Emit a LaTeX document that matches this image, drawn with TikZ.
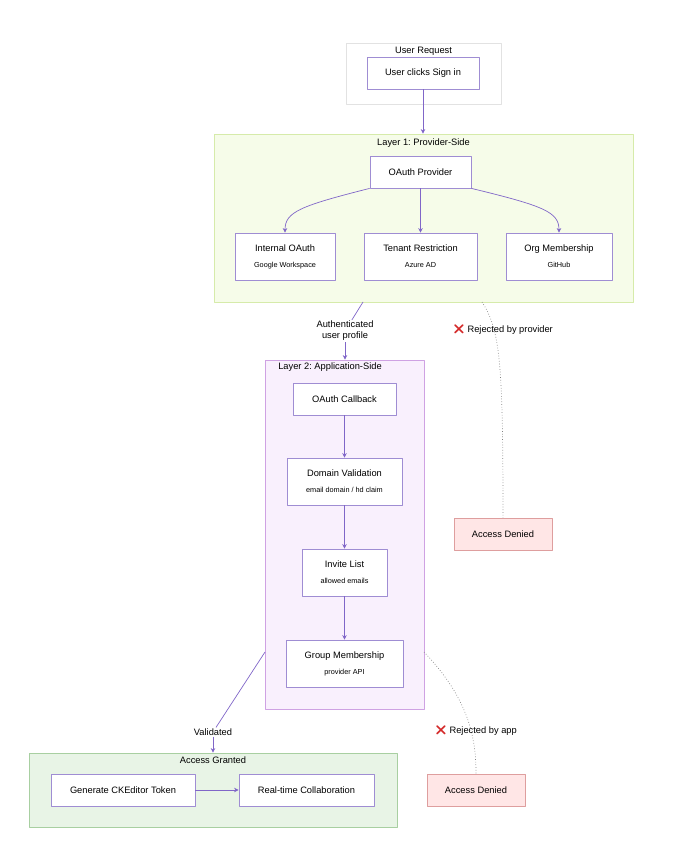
\documentclass[tikz,border=0pt]{standalone}
\usepackage{fontspec}
\setmainfont{Liberation Sans}
\newfontfamily\emojifont{Noto Emoji}
\usetikzlibrary{arrows.meta}
\frenchspacing
\definecolor{nodeC}{HTML}{9F8DD3}
\definecolor{edgeC}{HTML}{8066C8}
\definecolor{layoneF}{HTML}{F6FCE9}
\definecolor{layoneD}{HTML}{D6EBAA}
\definecolor{laytwoF}{HTML}{F9F0FD}
\definecolor{laytwoD}{HTML}{CFA2E3}
\definecolor{reqD}{HTML}{E2E2E2}
\definecolor{grantF}{HTML}{E8F4E6}
\definecolor{grantD}{HTML}{A8CFA1}
\definecolor{denyF}{HTML}{FFE6E6}
\definecolor{denyD}{HTML}{DE9E9E}
\definecolor{crossC}{HTML}{D42A2A}
\newcommand{\subline}[1]{{\fontsize{7.3}{8}\selectfont #1}}
\newcommand{\cross}{{\color{crossC}\emojifont ❌}}

\begin{document}
\begin{tikzpicture}[x=1pt, y=-1pt, font=\fontsize{9.3}{11}\selectfont, line join=round,
		>={Stealth[length=4.5pt,width=4.5pt]},
		box/.style={draw=nodeC, fill=white, line width=0.8pt, inner sep=0pt, align=center},
		deny/.style={draw=denyD, fill=denyF, line width=0.8pt, inner sep=0pt, minimum width=98, minimum height=32},
		grp/.style={line width=0.8pt, inner sep=0pt},
		edge/.style={draw=edgeC, line width=0.7pt},
		reject/.style={draw=gray, line width=0.7pt, dotted},
		lbl/.style={inner sep=1pt, align=center}]
	\useasboundingbox (0,0) rectangle (676,866);
	% groups
	\node[grp, draw=reqD, fill=white, minimum width=155, minimum height=61] (req) at (423.5,73.5) {};
	\node[grp, draw=layoneD, fill=layoneF, minimum width=419, minimum height=168] (lay1) at (423.5,218) {};
	\node[grp, draw=laytwoD, fill=laytwoF, minimum width=159, minimum height=349] (lay2) at (344.5,534.5) {};
	\node[grp, draw=grantD, fill=grantF, minimum width=368, minimum height=74] (grant) at (213,790) {};
	\node[anchor=north, inner sep=0pt] (reqT) at (423.5,46.5) {User Request};
	\node[anchor=north, inner sep=0pt] (lay1T) at (423.5,138.5) {Layer 1: Provider-Side};
	\node[anchor=north, inner sep=0pt] (lay2T) at (330,363) {Layer 2: Application-Side};
	\node[anchor=north, inner sep=0pt] (grantT) at (213,757) {Access Granted};
	% nodes
	\node[box, minimum width=112, minimum height=32] (click) at (423,73) {User clicks Sign in};
	\node[box, minimum width=101, minimum height=32] (prov) at (420.5,172) {OAuth Provider};
	\node[box, minimum width=100, minimum height=47] (int) at (285,256.5) {Internal OAuth\\[5pt]\subline{Google Workspace}};
	\node[box, minimum width=113, minimum height=47] (ten) at (420.5,256.5) {Tenant Restriction\\[5pt]\subline{Azure AD}};
	\node[box, minimum width=106, minimum height=47] (org) at (559,256.5) {Org Membership\\[5pt]\subline{GitHub}};
	\node[box, minimum width=103, minimum height=32] (cb) at (344.5,399) {OAuth Callback};
	\node[box, minimum width=115, minimum height=47] (dom) at (344.5,481.5) {Domain Validation\\[5pt]\subline{email domain / hd claim}};
	\node[box, minimum width=85, minimum height=47] (inv) at (344.5,572.5) {Invite List\\[5pt]\subline{allowed emails}};
	\node[box, minimum width=117, minimum height=47] (grpm) at (344.5,663.5) {Group Membership\\[5pt]\subline{provider API}};
	\node[box, minimum width=144, minimum height=32] (tok) at (123,790) {Generate CKEditor Token};
	\node[box, minimum width=135, minimum height=32] (rt) at (306.5,790) {Real-time Collaboration};
	\node[deny] (den1) at (503,534) {Access Denied};
	\node[deny] (den2) at (476,790) {Access Denied};
	\path (363,302) coordinate (a1)
		(265,652) coordinate (v1)
		(482,302) coordinate (r1)
		(424,652) coordinate (r2);
	% rejections (labels drawn over the dotted lines)
	\draw[reject] (r1) .. controls (500,330) and (503,360) .. (den1.north);
	\draw[reject] (r2) .. controls (470,700) and (476,740) .. (den2.north);
	\node[lbl] (rjp) at (503,330) {\cross\ Rejected by provider};
	\node[lbl] (rja) at (476,731) {\cross\ Rejected by app};
	% edge labels
	\node[lbl] (auth) at (345,331) {Authenticated\\user profile};
	\node[lbl] (valid) at (213,732) {Validated};
	% connectors
	\draw[edge, ->] (click) -- (lay1.north -| click);
	\draw[edge, ->] (prov.south west) .. controls (300,206) and (285,212) .. (int.north);
	\draw[edge, ->] (prov) -- (ten);
	\draw[edge, ->] (prov.south east) .. controls (544,206) and (559,212) .. (org.north);
	\draw[edge] (a1) -- (auth);
	\draw[edge, ->] (auth) -- (lay2.north -| auth);
	\foreach \a/\b in {cb/dom, dom/inv, inv/grpm, tok/rt}
		\draw[edge, ->] (\a) -- (\b);
	\draw[edge] (v1) -- (valid);
	\draw[edge, ->] (valid) -- (grant.north);
\end{tikzpicture}
\end{document}
